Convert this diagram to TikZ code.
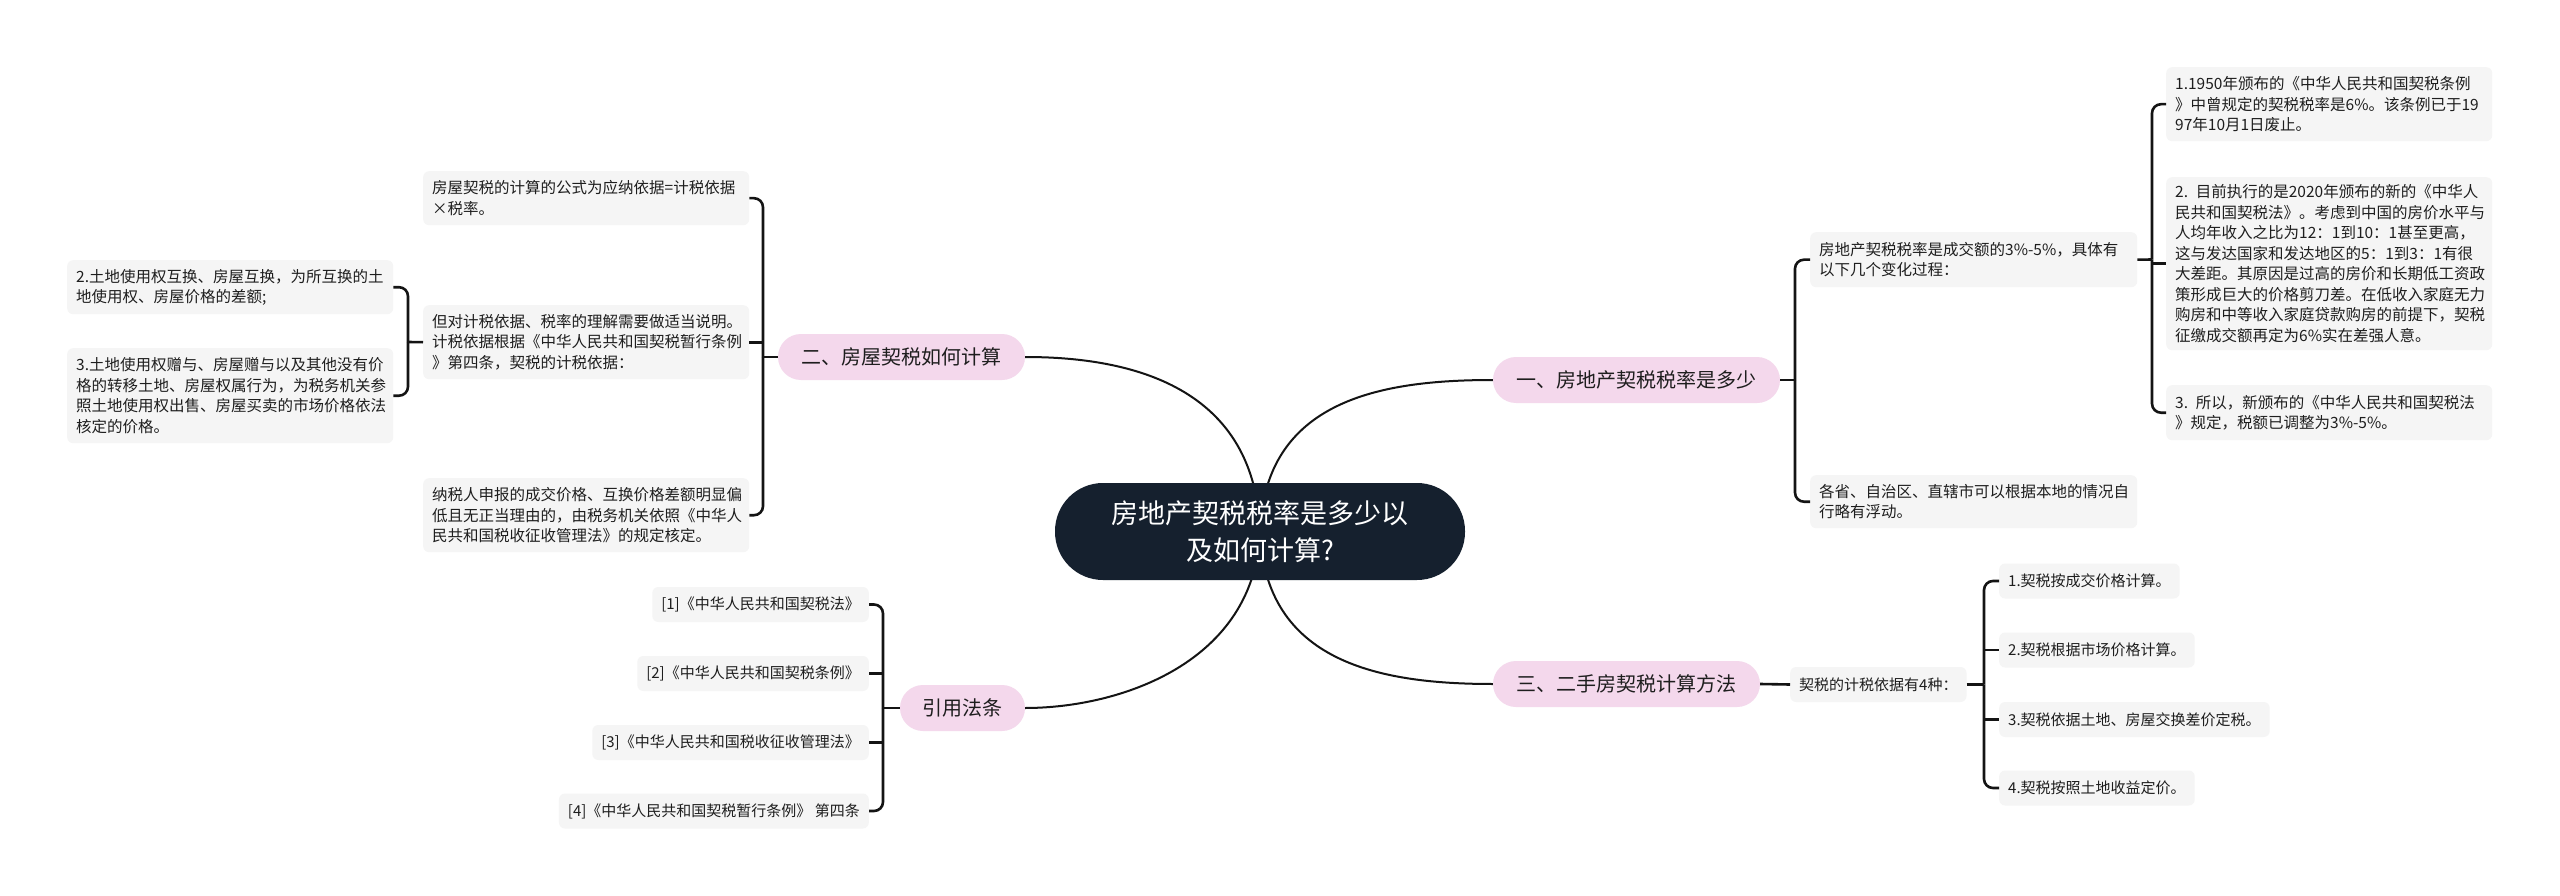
\documentclass[tikz,border=0pt]{standalone}
\usepackage{fontspec}
\setmainfont{Noto Sans CJK SC}
\definecolor{pinkfill}{HTML}{F4D8EC}
\definecolor{grayfill}{HTML}{F5F5F5}
\definecolor{navy}{HTML}{15202E}
\definecolor{txt}{HTML}{1E1E1E}
\definecolor{linec}{HTML}{141414}
\begin{document}
\begin{tikzpicture}[x=1pt,y=-1pt,
  root/.style={fill=navy, text=white, rounded corners=48pt, minimum width=410pt, minimum height=97pt,
    font=\fontsize{27}{37}\selectfont, align=center, inner sep=0pt},
  topic/.style={fill=pinkfill, text=txt, rounded corners=23pt, minimum height=46pt, inner sep=0pt,
    font=\fontsize{20}{24}\selectfont},
  leaf/.style={fill=grayfill, text=txt, rounded corners=6pt, inner xsep=9pt, inner ysep=0pt,
    font=\fontsize{15.5}{20.5}\selectfont, align=left, anchor=north west},
  leafs/.style={fill=grayfill, text=txt, rounded corners=6pt, inner xsep=9pt, inner ysep=0pt,
    font=\fontsize{15}{20}\selectfont, minimum height=35pt},
  conn/.style={draw=linec, line width=2pt},
  brk/.style={draw=linec, line width=2.6pt, rounded corners=9pt}]
\useasboundingbox (0,0) rectangle (2560,896);
\fill[white] (0,0) rectangle (2560,896);

% ---------- nodes ----------
\coordinate (rc) at (1260,531.5);
% level 1
\node[topic, minimum width=287pt] (t1) at (1636.5,380) {一、房地产契税税率是多少};
\node[topic, minimum width=247pt] (t2) at (901.5,357) {二、房屋契税如何计算};
\node[topic, minimum width=267pt] (t3) at (1626.5,684) {三、二手房契税计算方法};
\node[topic, minimum width=125pt] (t4) at (962.5,708) {引用法条};

% central curves (behind root)
\draw[conn] (rc) .. controls +(5,-131) and +(-113,0) .. (t1.west);
\draw[conn] (rc) .. controls +(-5,-151) and +(95,0) .. (t2.east);
\draw[conn] (rc) .. controls +(5,131) and +(-113,0) .. (t3.west);
\draw[conn] (rc) .. controls +(-5,131) and +(95,0) .. (t4.east);

\node[root] (root) at (rc) {房地产契税税率是多少以\\及如何计算?};

% branch 1
\node[leaf, text width=309pt, minimum height=55pt] (b1a) at (1810,232)
  {房地产契税税率是成交额的3\%-5\%，具体有\\以下几个变化过程：};
\node[leaf, text width=309pt, minimum height=53pt] (b1b) at (1810,475)
  {各省、自治区、直辖市可以根据本地的情况自\\行略有浮动。};
\node[leaf, text width=308pt, minimum height=74pt] (b1a1) at (2166,67)
  {1.1950年颁布的《中华人民共和国契税条例\\》中曾规定的契税税率是6\%。该条例已于19\\97年10月1日废止。};
\node[leaf, text width=308pt, minimum height=173pt] (b1a2) at (2166,177)
  {2. 目前执行的是2020年颁布的新的《中华人\\民共和国契税法》。考虑到中国的房价水平与\\人均年收入之比为12：1到10：1甚至更高，\\这与发达国家和发达地区的5：1到3：1有很\\大差距。其原因是过高的房价和长期低工资政\\策形成巨大的价格剪刀差。在低收入家庭无力\\购房和中等收入家庭贷款购房的前提下，契税\\征缴成交额再定为6\%实在差强人意。};
\node[leaf, text width=308pt, minimum height=55pt] (b1a3) at (2166,385)
  {3. 所以，新颁布的《中华人民共和国契税法\\》规定，税额已调整为3\%-5\%。};

% branch 2
\node[leaf, text width=308pt, minimum height=54pt] (b2a) at (423,171)
  {房屋契税的计算的公式为应纳依据=计税依据\\×税率。};
\node[leaf, text width=308pt, minimum height=74pt] (b2b) at (423,305)
  {但对计税依据、税率的理解需要做适当说明。\\计税依据根据《中华人民共和国契税暂行条例\\》第四条，契税的计税依据：};
\node[leaf, text width=308pt, minimum height=74pt] (b2c) at (423,478)
  {纳税人申报的成交价格、互换价格差额明显偏\\低且无正当理由的，由税务机关依照《中华人\\民共和国税收征收管理法》的规定核定。};
\node[leaf, text width=308pt, minimum height=54pt] (b2b1) at (67,260)
  {2.土地使用权互换、房屋互换，为所互换的土\\地使用权、房屋价格的差额;};
\node[leaf, text width=308pt, minimum height=95pt] (b2b2) at (67,348)
  {3.土地使用权赠与、房屋赠与以及其他没有价\\格的转移土地、房屋权属行为，为税务机关参\\照土地使用权出售、房屋买卖的市场价格依法\\核定的价格。};

% branch 3
\node[leafs, anchor=west] (b3) at (1790,684.5) {契税的计税依据有4种：};
\node[leafs, anchor=west] (b3a) at (1999,581) {1.契税按成交价格计算。};
\node[leafs, anchor=west] (b3b) at (1999,650) {2.契税根据市场价格计算。};
\node[leafs, anchor=west] (b3c) at (1999,719.5) {3.契税依据土地、房屋交换差价定税。};
\node[leafs, anchor=west] (b3d) at (1999,788) {4.契税按照土地收益定价。};

% branch 4
\node[leafs, anchor=east] (b4a) at (869,604.5) {[1]《中华人民共和国契税法》};
\node[leafs, anchor=east] (b4b) at (869,673.5) {[2]《中华人民共和国契税条例》};
\node[leafs, anchor=east] (b4c) at (869,742.5) {[3]《中华人民共和国税收征收管理法》};
\node[leafs, anchor=east] (b4d) at (869,811) {[4]《中华人民共和国契税暂行条例》 第四条};

% ---------- brackets ----------
% branch 1
\coordinate (j1) at (1795,380);
\draw[brk] (t1.east) -- (j1);
\draw[brk] (j1) |- (b1a.west);
\draw[brk] (j1) |- (b1b.west);
\coordinate (j11) at (2152,259.5);
\draw[brk] (b1a.east) -- (j11);
\draw[brk] (j11) |- (b1a1.west);
\draw[brk] (j11) |- (b1a3.west);
\draw[brk] (j11 |- b1a2.west) -- (b1a2.west);

% branch 2
\coordinate (j2) at (763,357);
\draw[brk] (t2.west) -- (j2);
\draw[brk] (j2) |- (b2a.east);
\draw[brk] (j2) |- (b2c.east);
\draw[brk] (j2 |- b2b.east) -- (b2b.east);
\coordinate (j21) at (408,342);
\draw[brk] (b2b.west) -- (j21);
\draw[brk] (j21) |- (b2b1.east);
\draw[brk] (j21) |- (b2b2.east);

% branch 3
\draw[brk] (t3.east) -- (b3.west);
\coordinate (j3) at (1984,684.5);
\draw[brk] (b3.east) -- (j3);
\draw[brk] (j3) |- (b3a.west);
\draw[brk] (j3) |- (b3d.west);
\draw[brk] (j3 |- b3b.west) -- (b3b.west);
\draw[brk] (j3 |- b3c.west) -- (b3c.west);

% branch 4
\coordinate (j4) at (883,708);
\draw[brk] (t4.west) -- (j4);
\draw[brk] (j4) |- (b4a.east);
\draw[brk] (j4) |- (b4d.east);
\draw[brk] (j4 |- b4b.east) -- (b4b.east);
\draw[brk] (j4 |- b4c.east) -- (b4c.east);
\end{tikzpicture}
\end{document}
